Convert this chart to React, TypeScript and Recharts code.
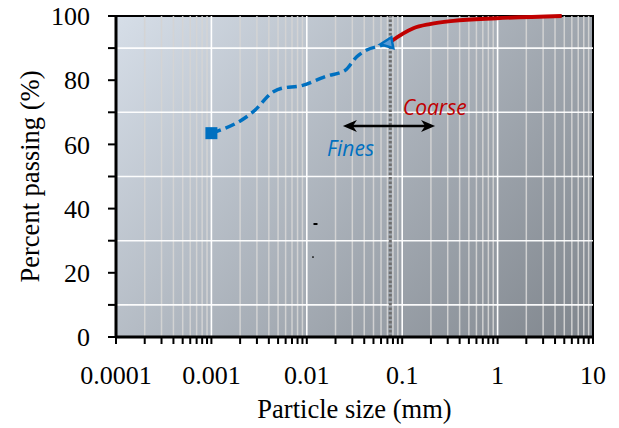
import React from 'react';
import {
  ComposedChart,
  Line,
  XAxis,
  YAxis,
  ReferenceArea,
  ReferenceLine,
  ReferenceDot,
} from 'recharts';

// ---- data ----
const FINES_SIZE = [0.001, 0.00234, 0.00275, 0.00446, 0.00546, 0.0085, 0.0162, 0.0251, 0.0334, 0.0425, 0.0585, 0.0716];
const FINES_PASS = [63.5, 68.6, 70.2, 76.4, 77.5, 78.2, 81.3, 83.0, 87.3, 89.4, 90.7, 91.5];

const COARSE_SIZE = [0.0757, 0.1028, 0.131, 0.195, 0.343, 0.977, 4.7];
const COARSE_PASS = [92.0, 94.6, 96.2, 97.5, 98.5, 99.3, 100];

const DECADES = [0.0001, 0.001, 0.01, 0.1, 1, 10];
const DECADE_LABELS = ['0.0001', '0.001', '0.01', '0.1', '1', '10'];
const Y_TICKS = [0, 10, 20, 30, 40, 50, 60, 70, 80, 90, 100];
const Y_GRID = [10, 30, 50, 70, 90];
const SIEVE_SPLIT = 0.075;

const ARROW_FROM = 0.0239;
const ARROW_TO = 0.221;
const ARROW_Y = 65.7;
const COARSE_LABEL = { x: 0.1015, y: 69.2, text: 'Coarse' };
const FINES_LABEL = { x: 0.0163, y: 56.4, text: 'Fines' };
const SPECKS = [
  { x: 0.01233, y: 35.2, w: 4, h: 2 },
  { x: 0.01161, y: 24.9, w: 1.5, h: 1.5 },
];

const X_TITLE = 'Particle size (mm)';
const Y_TITLE = 'Percent passing (%)';

const finesData = FINES_SIZE.map((x, i) => ({ x, y: FINES_PASS[i] }));
const coarseData = COARSE_SIZE.map((x, i) => ({ x, y: COARSE_PASS[i] }));

const minorTicks: number[] = [];
DECADES.slice(0, -1).forEach((d) => {
  for (let k = 2; k <= 9; k++) minorTicks.push(+(k * d).toPrecision(6));
});
const xTicks = [...DECADES, ...minorTicks].sort((a, b) => a - b);

const fmtX = (v: number) => {
  const i = DECADES.findIndex((d) => Math.abs(d - v) / d < 1e-6);
  return i >= 0 ? DECADE_LABELS[i] : '';
};
const fmtY = (v: number) => (v % 20 === 0 ? String(v) : '');

const BLUE = '#0070c0';
const RED = '#c00000';
const SERIF = '"Liberation Serif", "Times New Roman", serif';
const SANS = '"Open Sans", "Noto Sans", sans-serif';

const FinesDot = (props: any) => {
  const { cx, cy, index } = props;
  if (index === 0) {
    return <rect key="sq" x={cx - 6} y={cy - 6} width={12} height={12} fill={BLUE} />;
  }
  if (index === FINES_SIZE.length - 1) {
    return (
      <polygon
        key="tri"
        points={`${cx - 8},${cy + 1} ${cx + 3},${cy - 6} ${cx + 5},${cy + 5}`}
        fill="#5b9bd5"
        stroke={BLUE}
        strokeWidth={2.5}
        strokeLinejoin="miter"
      />
    );
  }
  return <g key={`n${index}`} />;
};

const ArrowShape = (props: any) => {
  const { x1, y1, x2 } = props;
  const yy = y1;
  const l = Math.min(x1, x2);
  const r = Math.max(x1, x2);
  return (
    <g>
      <line x1={l + 8} y1={yy} x2={r - 8} y2={yy} stroke="#000" strokeWidth={2.5} />
      <polygon points={`${l},${yy} ${l + 14},${yy - 6} ${l + 10},${yy} ${l + 14},${yy + 6}`} fill="#000" />
      <polygon points={`${r},${yy} ${r - 14},${yy - 6} ${r - 10},${yy} ${r - 14},${yy + 6}`} fill="#000" />
    </g>
  );
};

const textShape = (text: string, color: string) => (props: any) => (
  <text
    x={props.cx}
    y={props.cy}
    fill={color}
    fontFamily={SANS}
    fontStyle="italic"
    fontSize={21}
    textAnchor="start"
  >
    {text}
  </text>
);

const speckShape = (w: number, h: number) => (props: any) => (
  <rect x={props.cx - w / 2} y={props.cy - h / 2} width={w} height={h} fill="#000" />
);

const YTitle = (props: any) => {
  const vb = props.viewBox || {};
  const cx = 29.5;
  const cy = vb.y + vb.height / 2;
  return (
    <text
      x={cx}
      y={cy}
      transform={`rotate(-90, ${cx}, ${cy})`}
      textAnchor="middle"
      dominantBaseline="central"
      fill="#000"
      fontFamily={SERIF}
      fontSize={26.5}
    >
      {Y_TITLE}
    </text>
  );
};

const XTitle = (props: any) => {
  const vb = props.viewBox || {};
  const cx = vb.x + vb.width / 2;
  return (
    <text
      x={cx}
      y={409}
      textAnchor="middle"
      dominantBaseline="central"
      fill="#000"
      fontFamily={SERIF}
      fontSize={26.5}
    >
      {X_TITLE}
    </text>
  );
};

export default function App() {
  return (
    <div style={{ margin: '-8px 0 0 -8px', width: 619, height: 428 }}>
      <ComposedChart
        width={619}
        height={428}
        margin={{ top: 16, right: 26, bottom: 0, left: 0 }}
      >
        <defs>
          <linearGradient id="bgGrad" x1="0" y1="0" x2="1.24" y2="0.73">
            <stop offset="0" stopColor="#d6dee8" />
            <stop offset="1" stopColor="#7b8188" />
          </linearGradient>
        </defs>
        <XAxis
          dataKey="x"
          type="number"
          scale="log"
          domain={[0.0001, 10]}
          ticks={xTicks}
          interval={0}
          tickFormatter={fmtX}
          height={91}
          allowDataOverflow
          axisLine={{ stroke: '#000', strokeWidth: 3 }}
          tickLine={{ stroke: '#000', strokeWidth: 2 }}
          tickSize={7}
          tickMargin={22}
          tick={{ fill: '#000', fontFamily: SERIF, fontSize: 26 }}
          label={<XTitle />}
        />
        <YAxis
          type="number"
          domain={[0, 100]}
          ticks={Y_TICKS}
          interval={0}
          tickFormatter={fmtY}
          width={116}
          axisLine={{ stroke: '#000', strokeWidth: 3 }}
          tickLine={{ stroke: '#000', strokeWidth: 2 }}
          tickSize={8}
          tickMargin={18}
          tick={{ fill: '#000', fontFamily: SERIF, fontSize: 26 }}
          label={<YTitle />}
        />
        <ReferenceArea
          x1={0.0001}
          x2={10}
          y1={0}
          y2={100}
          fill="url(#bgGrad)"
          fillOpacity={1}
          stroke="#000"
          strokeWidth={2}
          ifOverflow="visible"
        />
        {minorTicks.map((v) => (
          <ReferenceLine key={`m${v}`} x={v} stroke="#d4d4d4" strokeOpacity={0.95} strokeWidth={1.5} />
        ))}
        {DECADES.slice(1, -1).map((v) => (
          <ReferenceLine key={`d${v}`} x={v} stroke="#ffffff" strokeWidth={1.6} />
        ))}
        {Y_GRID.map((v) => (
          <ReferenceLine key={`h${v}`} y={v} stroke="#ffffff" strokeOpacity={0.95} strokeWidth={1.6} />
        ))}
        <ReferenceLine x={SIEVE_SPLIT} stroke="#6e6e6e" strokeWidth={3} strokeDasharray="2.5 2" />
        <ReferenceLine
          segment={[
            { x: ARROW_FROM, y: ARROW_Y },
            { x: ARROW_TO, y: ARROW_Y },
          ]}
          shape={ArrowShape}
        />
        <ReferenceDot
          x={COARSE_LABEL.x}
          y={COARSE_LABEL.y}
          r={0}
          shape={textShape(COARSE_LABEL.text, RED)}
        />
        <ReferenceDot
          x={FINES_LABEL.x}
          y={FINES_LABEL.y}
          r={0}
          shape={textShape(FINES_LABEL.text, BLUE)}
        />
        {SPECKS.map((s, i) => (
          <ReferenceDot key={`s${i}`} x={s.x} y={s.y} r={0} shape={speckShape(s.w, s.h)} />
        ))}
        <Line
          data={finesData}
          dataKey="y"
          type="monotone"
          stroke={BLUE}
          strokeWidth={3.5}
          strokeDasharray="10 5"
          dot={FinesDot}
          activeDot={false}
          isAnimationActive={false}
        />
        <Line
          data={coarseData}
          dataKey="y"
          type="monotone"
          stroke={RED}
          strokeWidth={3.8}
          dot={false}
          activeDot={false}
          isAnimationActive={false}
        />
      </ComposedChart>
    </div>
  );
}
